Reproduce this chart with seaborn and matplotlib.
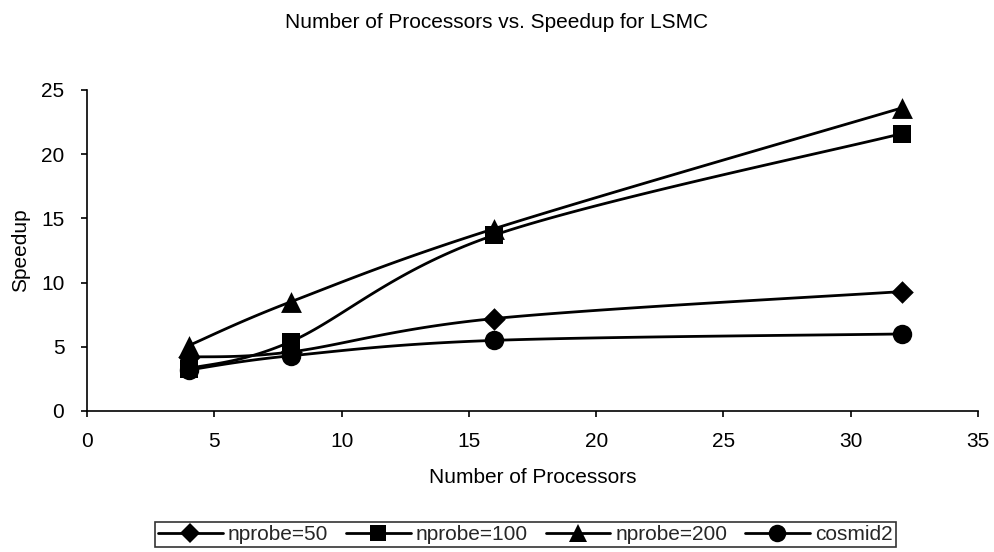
import numpy as np
import pandas as pd
import matplotlib
matplotlib.use("Agg")
import matplotlib.pyplot as plt
import seaborn as sns
from matplotlib.lines import Line2D

processors = [4, 8, 16, 32]
nprobe50 = [4.2, 4.6, 7.2, 9.3]
nprobe100 = [3.3, 5.4, 13.7, 21.6]
nprobe200 = [5.1, 8.5, 14.2, 23.6]
cosmid2 = [3.2, 4.3, 5.5, 6.0]
series_names = ["nprobe=50", "nprobe=100", "nprobe=200", "cosmid2"]
series_values = [nprobe50, nprobe100, nprobe200, cosmid2]
markers = ["D", "s", "^", "o"]
msizes = [11.5, 13, 15, 14]

sns.set_theme(style="white")
plt.rcParams["font.family"] = ["Liberation Sans", "DejaVu Sans"]

FS = 15
FW, FH = 994.0, 552.0
fig = plt.figure(figsize=(9.94, 5.52), dpi=100)
ax = fig.add_axes([87 / FW, 1 - 411 / FH, 891 / FW, 321 / FH])

XMAX, YMAX = 35.0, 25.0
W, H = 891.0, 321.0


def smooth(xs, ys, n=40):
    # Excel-style Bezier smoothing in screen space
    P = np.array([[x / XMAX * W, y / YMAX * H] for x, y in zip(xs, ys)])
    out = []
    for i in range(len(P) - 1):
        p0 = P[i - 1] if i > 0 else P[i]
        p1 = P[i]
        p2 = P[i + 1]
        p3 = P[i + 2] if i + 2 < len(P) else P[i + 1]
        c1 = p1 + (p2 - p0) / 6.0
        c2 = p2 - (p3 - p1) / 6.0
        t = np.linspace(0, 1, n)[:, None]
        seg = ((1 - t) ** 3) * p1 + 3 * ((1 - t) ** 2) * t * c1 + 3 * (1 - t) * t ** 2 * c2 + t ** 3 * p2
        out.append(seg if i == 0 else seg[1:])
    S = np.vstack(out)
    return S[:, 0] / W * XMAX, S[:, 1] / H * YMAX


handles = []
for name, vals, m, ms in zip(series_names, series_values, markers, msizes):
    sx, sy = smooth(processors, vals)
    df_line = pd.DataFrame({"x": sx, "y": sy})
    sns.lineplot(data=df_line, x="x", y="y", ax=ax, color="black", linewidth=2.0,
                 sort=False, estimator=None)
    df_pts = pd.DataFrame({"x": processors, "y": vals})
    sns.scatterplot(data=df_pts, x="x", y="y", ax=ax, marker=m, s=ms ** 2,
                    color="black", linewidth=0, zorder=5)
    handles.append(Line2D([], [], color="black", linewidth=2.0, marker=m,
                          markersize=ms * 0.9, markeredgewidth=0, label=name))

ax.set_xlim(0, 35)
ax.set_ylim(0, 25)
ax.set_xticks(range(0, 36, 5))
ax.set_yticks(range(0, 26, 5))
for s in ["top", "right"]:
    ax.spines[s].set_visible(False)
for s in ["left", "bottom"]:
    ax.spines[s].set_color("black")
    ax.spines[s].set_linewidth(1.2)
ax.tick_params(axis="both", which="major", direction="out", length=4.3, width=1.2,
               color="black", labelsize=FS, labelcolor="black",
               bottom=True, left=True)
ax.tick_params(axis="x", pad=11)
ax.tick_params(axis="y", pad=12)
ax.set_xlabel("Number of Processors", fontsize=FS, labelpad=12, color="black")
ax.set_ylabel("Speedup", fontsize=FS, color="black")
ax.yaxis.set_label_coords(30 / FW, 1 - 250 / FH, transform=fig.transFigure)
fig.text(0.5, 1 - 28 / FH, "Number of Processors vs. Speedup for LSMC", ha="center",
         va="baseline", fontsize=FS, color="black")

leg = fig.legend(handles=handles, loc="upper left", bbox_to_anchor=(155 / FW, 1 - 522 / FH),
                 ncol=4, frameon=True, fancybox=False, fontsize=FS,
                 handlelength=3.1, handletextpad=0.25, columnspacing=0.85,
                 borderpad=0.15, borderaxespad=0)
leg.get_frame().set_edgecolor("black")
leg.get_frame().set_linewidth(1.2)

fig.savefig("out.png", dpi=100, facecolor="white")
